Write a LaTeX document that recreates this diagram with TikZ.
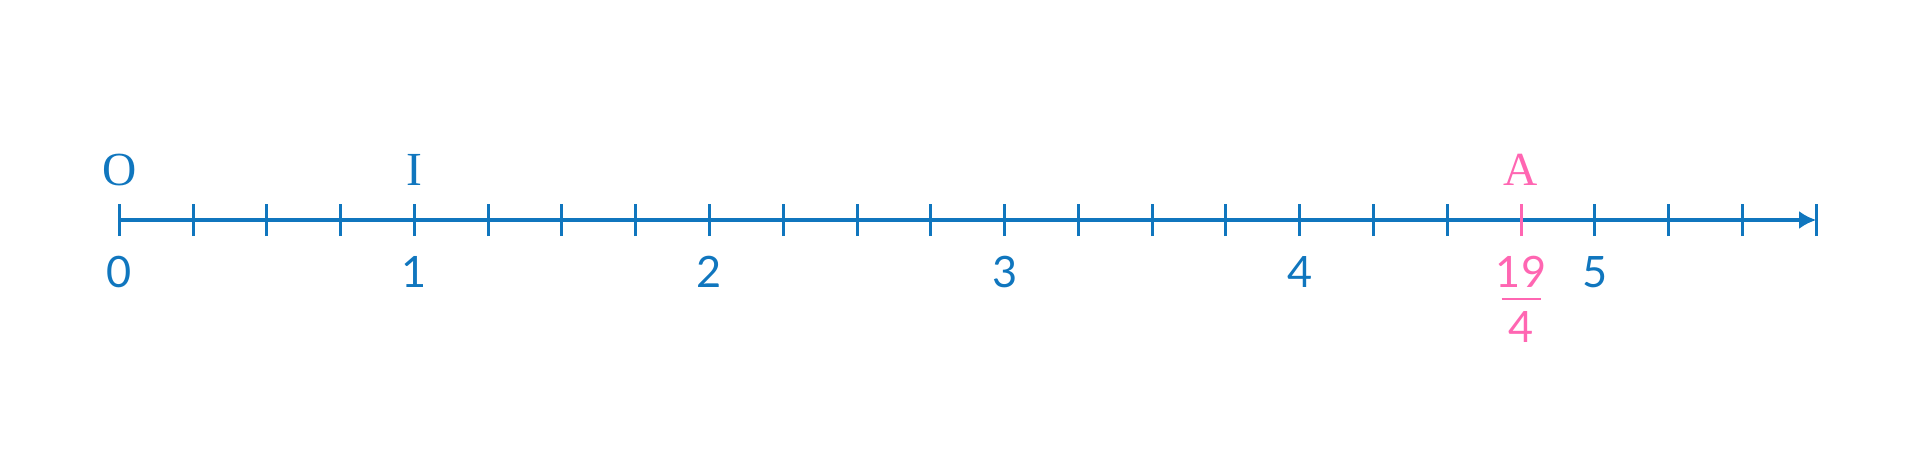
\documentclass[tikz,border=0pt]{standalone}
\usepackage{fontspec}
\setmainfont{Liberation Serif}
\newfontfamily\numfont{Lato}
\usepackage{xcolor}
\usepackage{tikz}
\usetikzlibrary{arrows.meta,positioning}
\definecolor{axisblue}{RGB}{16,118,190}
\definecolor{markpink}{RGB}{255,102,178}

\begin{document}
\begin{tikzpicture}[x=2.951cm,y=1cm,
        tickline/.style={axisblue, line width=0.85pt},
        numlabel/.style={axisblue, inner sep=0pt, font=\numfont\fontsize{12.3}{14}\selectfont},
        ptlabel/.style={axisblue, inner sep=0pt, font=\fontsize{13.5}{16}\selectfont}]
        \useasboundingbox (-1.193cm,-2.30cm) rectangle (18.007cm,2.20cm);
        \coordinate (orig) at (0,0);
        \coordinate (axisend) at (5.75,0);
        \draw[axisblue, line width=0.9pt, -{Latex[length=0.17cm,width=0.18cm]}] (orig) -- (axisend);
        \foreach \i in {0,...,23} {
            \ifnum\i=19
                \draw[tickline, markpink] (\i*0.25,-0.16) -- (\i*0.25,0.16);
            \else
                \draw[tickline] (\i*0.25,-0.16) -- (\i*0.25,0.16);
            \fi
        }
        \foreach \n in {0,...,5}
            \node[numlabel] (num\n) at (\n,-0.52) {\n};
        \node[ptlabel] (ptO) at (0,0.50) {O};
        \node[ptlabel] (ptI) at (1,0.50) {I};
        \node[ptlabel, markpink] (ptA) at (4.75,0.50) {A};
        \node[numlabel, markpink] (fracnum) at (4.75,-0.52) {19};
        \node[numlabel, markpink] (fracden) at (4.75,-1.07) {4};
        \draw[markpink, line width=0.6pt] ([xshift=-0.195cm]4.75,-0.79) -- ([xshift=0.195cm]4.75,-0.79);
    \end{tikzpicture}
\end{document}
